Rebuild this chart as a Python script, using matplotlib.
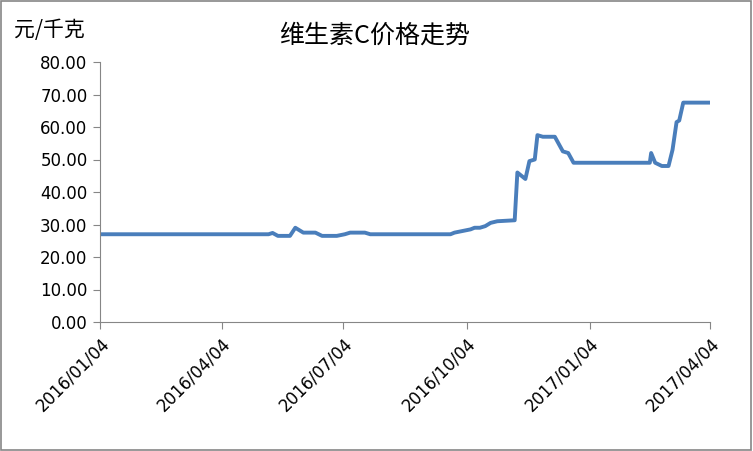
import numpy as np
import pandas as pd
import matplotlib
matplotlib.use("Agg")
import matplotlib.pyplot as plt
import matplotlib.dates as mdates
from matplotlib.patches import Rectangle

plt.rcParams['font.family'] = ['Noto Sans CJK SC', 'DejaVu Sans']

# 价格数据 (元/千克)
dates = ["2016-01-04", "2016-05-09", "2016-05-12", "2016-05-16", "2016-05-25",
         "2016-05-29", "2016-06-04", "2016-06-13", "2016-06-18", "2016-06-29",
         "2016-07-05", "2016-07-09", "2016-07-20", "2016-07-24", "2016-09-22",
         "2016-09-25", "2016-10-07", "2016-10-10", "2016-10-14", "2016-10-18",
         "2016-10-22", "2016-10-27", "2016-11-09", "2016-11-11", "2016-11-17",
         "2016-11-20", "2016-11-24", "2016-11-26", "2016-11-30", "2016-12-09",
         "2016-12-15", "2016-12-19", "2016-12-23", "2017-02-18", "2017-02-19",
         "2017-02-22", "2017-02-27", "2017-03-04", "2017-03-07", "2017-03-10",
         "2017-03-12", "2017-03-15", "2017-04-04"]
prices = [27.0, 27.0, 27.4, 26.5, 26.5,
          29.0, 27.5, 27.5, 26.5, 26.5,
          27.0, 27.5, 27.5, 27.0, 27.0,
          27.5, 28.5, 29.0, 29.0, 29.5,
          30.5, 31.0, 31.3, 46.0, 44.0,
          49.5, 50.0, 57.5, 57.0, 57.0,
          52.5, 52.0, 49.0, 49.0, 52.0,
          49.0, 48.0, 48.0, 53.0, 61.5,
          62.0, 67.5, 67.5]
tick_dates = ["2016-01-04", "2016-04-04", "2016-07-04", "2016-10-04",
              "2017-01-04", "2017-04-04"]
tick_labels = ["2016/01/04", "2016/04/04", "2016/07/04", "2016/10/04",
               "2017/01/04", "2017/04/04"]
y_ticks = [0, 10, 20, 30, 40, 50, 60, 70, 80]


def main():
    x = pd.to_datetime(dates)
    fig = plt.figure(figsize=(7.53, 4.51), dpi=100)
    ax = fig.add_axes([100/753, 1 - 322/451, 610/753, 260/451])

    ax.plot(x, prices, color='#4a7ebb', lw=2.8, solid_joinstyle='round')

    ax.set_xlim(pd.Timestamp(tick_dates[0]), pd.Timestamp(tick_dates[-1]))
    ax.set_ylim(0, 80)
    ax.set_yticks(y_ticks)
    ax.set_yticklabels(["%.2f" % v for v in y_ticks], fontsize=12,
                       family=['DejaVu Sans'])
    ax.set_xticks(pd.to_datetime(tick_dates))
    ax.set_xticklabels(tick_labels, rotation=45, ha='right',
                       rotation_mode='anchor', fontsize=12,
                       family=['DejaVu Sans'])

    for s in ['top', 'right']:
        ax.spines[s].set_visible(False)
    for s in ['left', 'bottom']:
        ax.spines[s].set_color('#868686')
        ax.spines[s].set_linewidth(0.8)
    ax.tick_params(axis='both', direction='out', length=5, color='#868686',
                   width=0.8, pad=4)

    fig.text(375/753, 1 - 36/451, "维生素C价格走势", ha='center', va='center',
             fontsize=18, fontweight='medium')
    fig.text(14/753, 1 - 30/451, "元/千克", ha='left', va='center',
             fontsize=15, fontweight='medium')

    # 外框
    fig.patches.append(Rectangle((0.001, 0.002), 0.997, 0.995,
                                 transform=fig.transFigure, fill=False,
                                 edgecolor='#868686', lw=1.2))

    fig.savefig('out.png', dpi=100)


if __name__ == "__main__":
    main()
